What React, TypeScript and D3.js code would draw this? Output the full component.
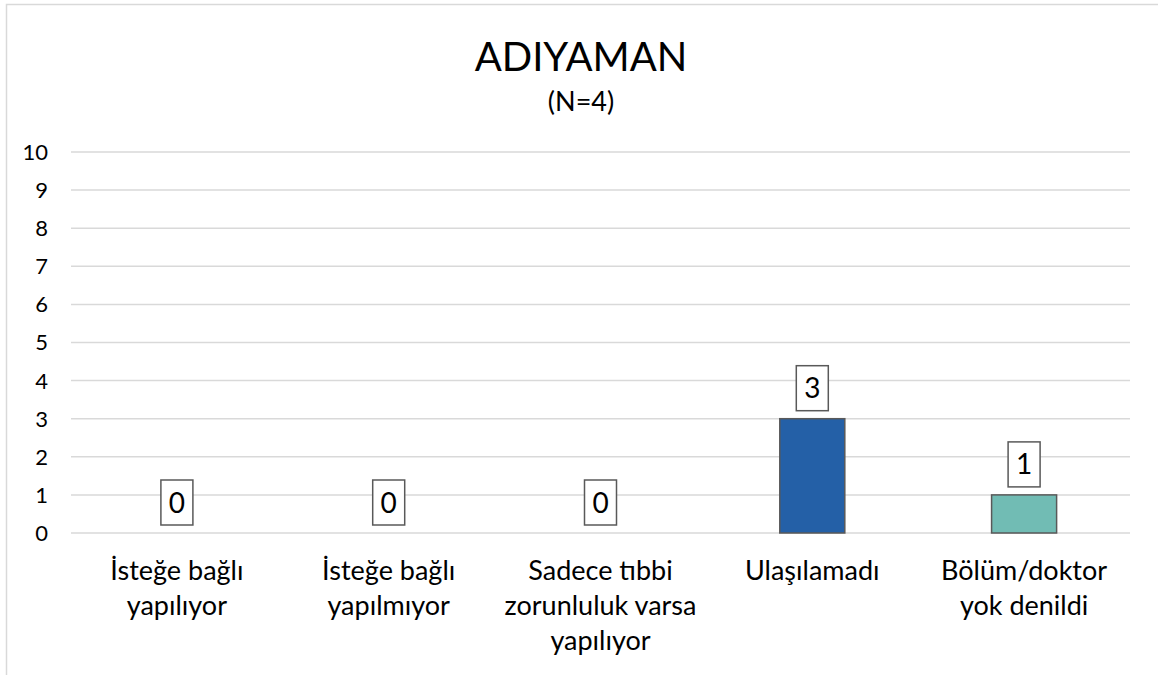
import React from "react";
import * as d3 from "d3";

const title = "ADIYAMAN";
const subtitle = "(N=4)";
const categories = [
  "İsteğe bağlı\nyapılıyor",
  "İsteğe bağlı\nyapılmıyor",
  "Sadece tıbbi\nzorunluluk varsa\nyapılıyor",
  "Ulaşılamadı",
  "Bölüm/doktor\nyok denildi",
];
const values = [0, 0, 0, 3, 1];
const barColors = ["#2460a7", "#2460a7", "#2460a7", "#2460a7", "#71bcb4"];
const yTicks = [0, 1, 2, 3, 4, 5, 6, 7, 8, 9, 10];

const W = 1158;
const H = 675;
const FONT = "Lato, 'Open Sans', sans-serif";

export default function App() {
  const x = d3.scaleBand<string>().domain(categories).range([71, 1130]).padding(0);
  const y = d3.scaleLinear().domain([0, 10]).range([533, 152]);
  const barW = x.bandwidth() * 0.307;
  const grid = "#d9d9d9";

  return (
    <svg
      width={W}
      height={H}
      style={{ position: "absolute", left: 0, top: 0, display: "block", background: "#fff" }}
    >
      <rect x={6.5} y={4.5} width={W + 20} height={H + 20} fill="#fff" stroke={grid} strokeWidth={1.5} />
      <text x={581} y={71} textAnchor="middle" fontFamily={FONT} fontSize={40} fill="#000">
        {title}
      </text>
      <text x={581} y={111} textAnchor="middle" fontFamily={FONT} fontSize={27} fill="#000">
        {subtitle}
      </text>
      {yTicks.map((t) => (
        <g key={t}>
          <line x1={71} x2={1130} y1={y(t)} y2={y(t)} stroke={grid} strokeWidth={1.5} />
          <text
            x={48}
            y={y(t)}
            dy="0.36em"
            textAnchor="end"
            fontFamily={FONT}
            fontSize={22}
            fill="#000"
          >
            {t}
          </text>
        </g>
      ))}
      {categories.map((c, i) => {
        const cx = (x(c) as number) + x.bandwidth() / 2;
        const v = values[i];
        const top = y(v);
        return (
          <g key={c}>
            {v > 0 && (
              <rect
                x={cx - barW / 2}
                y={top}
                width={barW}
                height={y(0) - top}
                fill={barColors[i]}
                stroke="#595959"
                strokeWidth={1.5}
              />
            )}
            <rect
              x={cx - 16}
              y={top - 8 - 45}
              width={32}
              height={45}
              fill="#fff"
              stroke="#595959"
              strokeWidth={1.5}
            />
            <text
              x={cx}
              y={top - 8 - 22.5}
              dy="0.36em"
              textAnchor="middle"
              fontFamily={FONT}
              fontSize={28}
              fill="#000"
            >
              {v}
            </text>
            {c.split("\n").map((line, j) => (
              <text
                key={j}
                x={cx}
                y={580 + j * 35}
                textAnchor="middle"
                fontFamily={FONT}
                fontSize={27}
                fill="#000"
              >
                {line}
              </text>
            ))}
          </g>
        );
      })}
    </svg>
  );
}
